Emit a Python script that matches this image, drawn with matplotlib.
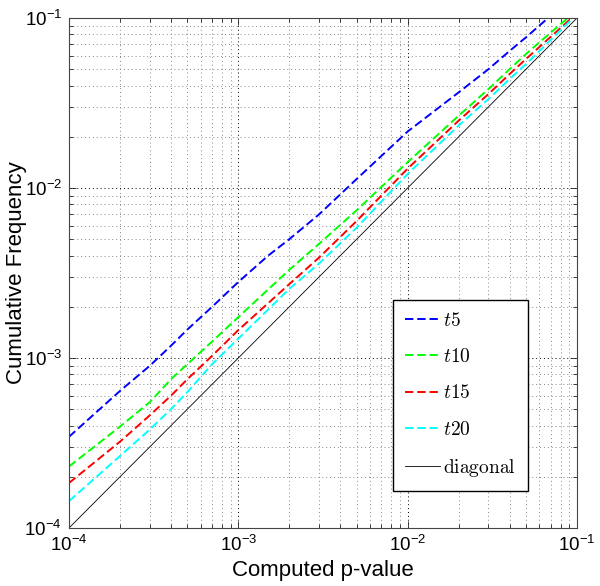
import matplotlib
matplotlib.use("Agg")
import matplotlib.pyplot as plt
from matplotlib.ticker import LogLocator, NullFormatter
from matplotlib.font_manager import FontProperties

plt.rcParams['font.family'] = ['Liberation Sans', 'DejaVu Sans']
plt.rcParams['mathtext.fontset'] = 'custom'
plt.rcParams['mathtext.rm'] = 'Liberation Sans'

# ---- data ----
x_t5 = [1e-4, 2e-4, 3e-4, 4e-4, 5e-4, 7e-4, 1e-3, 1.5e-3, 2e-3, 3e-3, 5e-3, 1e-2, 2e-2, 3e-2, 4e-2, 5e-2, 6.75e-2]
y_t5 = [3.44e-4, 6.4e-4, 9.0e-4, 1.18e-3, 1.47e-3, 2.0e-3, 2.8e-3, 4.0e-3, 5.0e-3, 7.0e-3, 1.13e-2, 2.15e-2, 3.65e-2, 5.0e-2, 6.4e-2, 7.7e-2, 1.0e-1]

x_t10 = [1e-4, 2e-4, 3e-4, 4e-4, 5e-4, 7e-4, 1e-3, 2e-3, 3e-3, 5e-3, 1e-2, 2e-2, 3e-2, 4e-2, 5e-2, 6e-2, 8.83e-2]
y_t10 = [2.3e-4, 3.95e-4, 5.5e-4, 7.5e-4, 9.2e-4, 1.25e-3, 1.74e-3, 3.3e-3, 4.7e-3, 7.4e-3, 1.42e-2, 2.66e-2, 3.82e-2, 5.0e-2, 6.14e-2, 7.2e-2, 1.0e-1]

x_t15 = [1e-4, 2e-4, 3e-4, 4e-4, 5e-4, 7e-4, 1e-3, 2e-3, 3e-3, 5e-3, 1e-2, 2e-2, 3e-2, 4e-2, 5e-2, 9.3e-2]
y_t15 = [1.84e-4, 3.22e-4, 4.6e-4, 6.0e-4, 7.5e-4, 1.03e-3, 1.46e-3, 2.72e-3, 3.9e-3, 6.4e-3, 1.3e-2, 2.49e-2, 3.57e-2, 4.68e-2, 5.74e-2, 1.0e-1]

x_t20 = [1e-4, 2e-4, 3e-4, 4e-4, 5e-4, 7e-4, 1e-3, 2e-3, 3e-3, 5e-3, 1e-2, 2e-2, 3e-2, 4e-2, 5e-2, 9.5e-2]
y_t20 = [1.44e-4, 2.65e-4, 3.8e-4, 5.0e-4, 6.3e-4, 9.2e-4, 1.3e-3, 2.55e-3, 3.6e-3, 5.85e-3, 1.21e-2, 2.33e-2, 3.34e-2, 4.38e-2, 5.36e-2, 1.0e-1]

x_diag = [1e-4, 1e-1]
y_diag = [1e-4, 1e-1]

series = [
    (x_t5, y_t5, r'$t5$', (0, 0, 1)),
    (x_t10, y_t10, r'$t10$', (0, 1, 0)),
    (x_t15, y_t15, r'$t15$', (1, 0, 0)),
    (x_t20, y_t20, r'$t20$', (0, 1, 1)),
]

fig = plt.figure(figsize=(6.0, 5.86), dpi=100)
ax = fig.add_axes([69/600, 58/586, 508/600, 510/586])

for xs, ys, lab, col in series:
    ax.plot(xs, ys, color=col, lw=1.4, linestyle=(0, (4.3, 2.0)), label=lab)
ax.plot(x_diag, y_diag, color='black', lw=0.6, label=r'$\mathrm{diagonal}$')

ax.set_xscale('log')
ax.set_yscale('log')
ax.set_xlim(1e-4, 1e-1)
ax.set_ylim(1e-4, 1e-1)

for axis in (ax.xaxis, ax.yaxis):
    axis.set_major_locator(LogLocator(base=10, numticks=10))
    axis.set_minor_locator(LogLocator(base=10, subs=range(2, 10), numticks=20))
    axis.set_minor_formatter(NullFormatter())

ax.grid(True, which='major', color='black', linestyle=(0, (1, 3)), lw=0.7)
ax.grid(True, which='minor', color='#888888', linestyle=(0, (1, 3)), lw=0.7)
ax.set_axisbelow(True)

ax.tick_params(which='both', direction='in', top=True, right=True, labelsize=13.5, colors='#222222')
ax.tick_params(which='major', length=5, width=0.6, pad=5)
ax.tick_params(which='minor', length=3, width=0.6)
for lbl in ax.get_xticklabels() + ax.get_yticklabels():
    lbl.set_color('black')
for sp in ax.spines.values():
    sp.set_color('#444444')
    sp.set_linewidth(0.8)

ax.set_xlabel('Computed p-value', fontsize=16)
ax.set_ylabel('Cumulative Frequency', fontsize=16)
ax.xaxis.set_label_coords(0.5, -0.062)
ax.yaxis.set_label_coords(-0.083, 0.5)

leg = ax.legend(loc='lower left', bbox_to_anchor=(0.638, 0.0725), fontsize=14,
                frameon=True, fancybox=False, edgecolor='black', framealpha=1,
                handlelength=1.8, handletextpad=0.15, labelspacing=0.94,
                borderpad=0.62, borderaxespad=0)
leg.get_frame().set_linewidth(1.0)
for t in leg.get_texts():
    t.set_fontproperties(FontProperties(math_fontfamily='cm', size=14))

fig.savefig('out.png', dpi=100, facecolor='white')
